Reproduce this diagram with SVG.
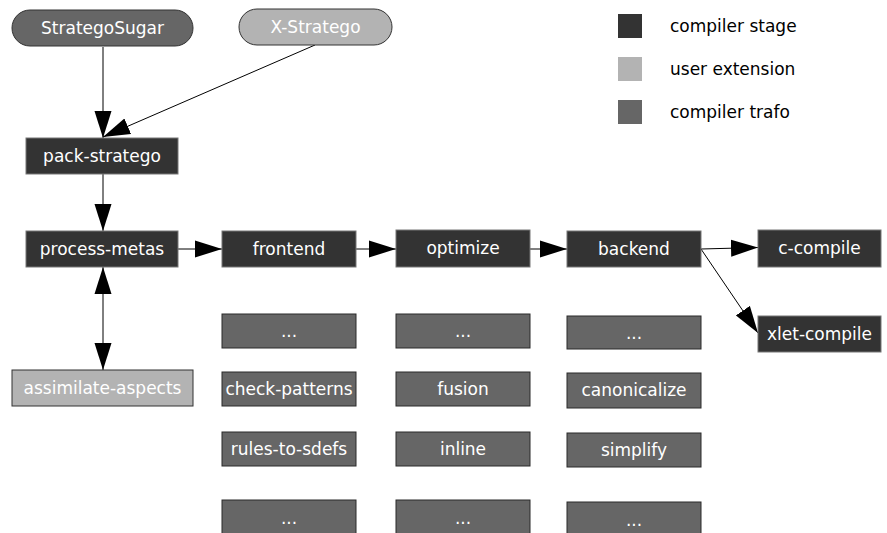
<svg xmlns="http://www.w3.org/2000/svg" width="887" height="533" viewBox="0 0 887 533">
<style>
text{font-family:"DejaVu Sans","Liberation Sans",sans-serif;font-size:17px;fill:#fff;text-anchor:middle}
.leg{fill:#000;text-anchor:start}
.stage{fill:#333;stroke:#777;stroke-width:1}
.trafo{fill:#666;stroke:#2a2a2a;stroke-width:1}
.ext{fill:#b3b3b3;stroke:#333;stroke-width:1}
.conn line{stroke:#000;stroke-width:1;fill:none}
</style>
<defs>
<marker id="ah" markerUnits="userSpaceOnUse" markerWidth="28" markerHeight="18" refX="27" refY="9" orient="auto-start-reverse" viewBox="0 0 28 18">
<path d="M0,0.5 L27,9 L0,17.5 z" fill="#000"/>
</marker>
</defs>
<rect width="887" height="533" fill="#fff"/>

<g id="legend">
<rect x="618" y="14" width="24" height="24" fill="#333"/>
<text class="leg" x="670" y="32">compiler stage</text>
<rect x="618" y="57" width="24" height="24" fill="#b3b3b3"/>
<text class="leg" x="670" y="75">user extension</text>
<rect x="618" y="100" width="24" height="24" fill="#666"/>
<text class="leg" x="670" y="118">compiler trafo</text>
</g>

<g class="conn" id="connectors">
<line x1="103" y1="47" x2="103" y2="138" marker-end="url(#ah)"/>
<line x1="315" y1="45" x2="103" y2="137" marker-end="url(#ah)"/>
<line x1="103" y1="174" x2="103" y2="231" marker-end="url(#ah)"/>
<line x1="178" y1="249" x2="222" y2="249" marker-end="url(#ah)"/>
<line x1="356" y1="249" x2="396" y2="249" marker-end="url(#ah)"/>
<line x1="530" y1="249" x2="567" y2="249" marker-end="url(#ah)"/>
<line x1="701" y1="249" x2="758" y2="247.5" marker-end="url(#ah)"/>
<line x1="701" y1="249" x2="758" y2="333" marker-end="url(#ah)"/>
<line x1="103" y1="267" x2="103" y2="370" marker-start="url(#ah)" marker-end="url(#ah)"/>
</g>

<g id="StrategoSugar"><rect x="12" y="10" width="181" height="36" rx="18" fill="#666" stroke="#333"/><text x="102.5" y="34">StrategoSugar</text></g>
<g id="X-Stratego"><rect x="239" y="9" width="153" height="36" rx="18" fill="#b3b3b3" stroke="#333"/><text x="315.5" y="33">X-Stratego</text></g>
<g id="pack-stratego"><rect class="stage" x="26" y="138" width="152" height="36"/><text x="102" y="162">pack-stratego</text></g>
<g id="process-metas"><rect class="stage" x="26" y="231" width="152" height="36"/><text x="102" y="255">process-metas</text></g>
<g id="assimilate-aspects"><rect class="ext" x="12" y="370" width="181" height="36"/><text x="102.5" y="394">assimilate-aspects</text></g>
<g id="frontend"><rect class="stage" x="222" y="231" width="134" height="36"/><text x="289" y="255">frontend</text></g>
<g id="optimize"><rect class="stage" x="396" y="230" width="134" height="37"/><text x="463" y="254">optimize</text></g>
<g id="backend"><rect class="stage" x="567" y="231" width="134" height="36"/><text x="634" y="255">backend</text></g>
<g id="c-compile"><rect class="stage" x="758" y="230" width="123" height="37"/><text x="819.5" y="254">c-compile</text></g>
<g id="xlet-compile"><rect class="stage" x="758" y="316" width="123" height="36"/><text x="819.5" y="340">xlet-compile</text></g>

<g id="fe-dots1"><rect class="trafo" x="222" y="314" width="134" height="34"/><text x="289" y="337">...</text></g>
<g id="check-patterns"><rect class="trafo" x="222" y="372" width="134" height="34"/><text x="289" y="395">check-patterns</text></g>
<g id="rules-to-sdefs"><rect class="trafo" x="222" y="432" width="134" height="34"/><text x="289" y="455">rules-to-sdefs</text></g>
<g id="fe-dots2"><rect class="trafo" x="222" y="500" width="134" height="36"/><text x="289" y="524">...</text></g>

<g id="opt-dots1"><rect class="trafo" x="396" y="314" width="134" height="34"/><text x="463" y="337">...</text></g>
<g id="fusion"><rect class="trafo" x="396" y="372" width="134" height="34"/><text x="463" y="395">fusion</text></g>
<g id="inline"><rect class="trafo" x="396" y="432" width="134" height="34"/><text x="463" y="455">inline</text></g>
<g id="opt-dots2"><rect class="trafo" x="396" y="500" width="134" height="36"/><text x="463" y="524">...</text></g>

<g id="be-dots1"><rect class="trafo" x="567" y="316" width="134" height="33"/><text x="634" y="339">...</text></g>
<g id="canonicalize"><rect class="trafo" x="567" y="373" width="134" height="35"/><text x="634" y="396">canonicalize</text></g>
<g id="simplify"><rect class="trafo" x="567" y="433" width="134" height="34"/><text x="634" y="456">simplify</text></g>
<g id="be-dots2"><rect class="trafo" x="567" y="502" width="134" height="34"/><text x="634" y="526">...</text></g>
</svg>
